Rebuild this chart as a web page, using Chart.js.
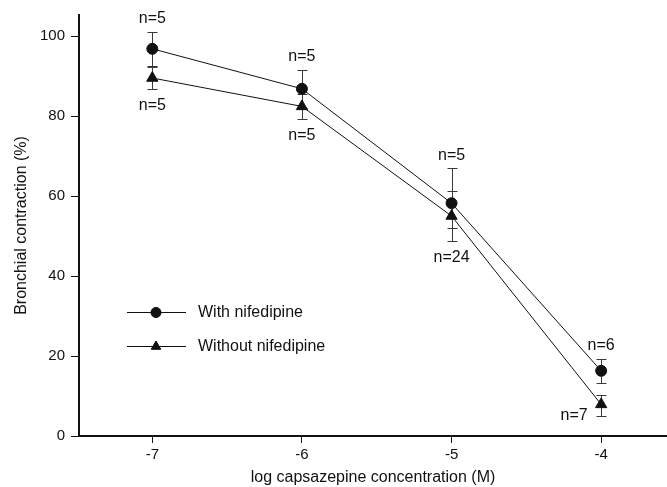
<!DOCTYPE html>
<html>
<head>
<meta charset="utf-8">
<script src="https://cdn.jsdelivr.net/npm/chart.js@4.4.1/dist/chart.umd.min.js"></script>
<style>
  html, body { margin: 0; padding: 0; background: #fff; }
  #wrap { width: 667px; height: 487px; position: relative; }
</style>
</head>
<body>
<div id="wrap"><canvas id="myChart"></canvas></div>
<script>
'use strict';

/** @desc Data */
const LOG_CONC = [-7, -6, -5, -4];
const WITH_NIF = [96.8, 86.8, 58.2, 16.3];
const WITH_NIF_ERR_UP = [4.3, 4.8, 8.7, 3.0];
const WITH_NIF_ERR_DOWN = [4.3, 4.8, 6.3, 3.0];
const WITHOUT_NIF = [89.5, 82.4, 55.0, 7.9];
const WITHOUT_NIF_ERR_UP = [2.8, 3.2, 6.3, 2.4];
const WITHOUT_NIF_ERR_DOWN = [2.8, 3.2, 6.3, 2.8];
const N_WITH = [5, 5, 5, 6];
const N_WITHOUT = [5, 5, 24, 7];
const X_TICKS = [-7, -6, -5, -4];
const Y_TICKS = [0, 20, 40, 60, 80, 100];

const FONT = 'Arial, "Liberation Sans", Helvetica, sans-serif';
const INK = '#111';

/** @desc Datasets built from the arrays above */
const DATA = {
  datasets: [{
    label: 'With nifedipine',
    data: LOG_CONC.map((x, i) => ({x: x, y: WITH_NIF[i]})),
    errUp: WITH_NIF_ERR_UP,
    errDown: WITH_NIF_ERR_DOWN,
    nLabels: N_WITH,
    borderColor: INK,
    backgroundColor: INK,
    borderWidth: 1,
    pointStyle: 'circle',
    pointRadius: 5.5,
    pointHoverRadius: 5.5,
    tension: 0
  }, {
    label: 'Without nifedipine',
    data: LOG_CONC.map((x, i) => ({x: x, y: WITHOUT_NIF[i]})),
    errUp: WITHOUT_NIF_ERR_UP,
    errDown: WITHOUT_NIF_ERR_DOWN,
    nLabels: N_WITHOUT,
    borderColor: INK,
    backgroundColor: INK,
    borderWidth: 1,
    pointStyle: 'triangle',
    pointRadius: 6.5,
    pointHoverRadius: 6.5,
    tension: 0
  }]
};

/** @desc Error bars, n labels and the inset legend */
const EXTRAS = {
  id: 'extras',
  beforeDatasetsDraw(chart) {
    const ctx = chart.ctx;
    const xs = chart.scales.x;
    const ys = chart.scales.y;
    ctx.save();
    ctx.strokeStyle = '#3a3a3a';
    ctx.lineWidth = 1;
    chart.data.datasets.forEach((ds) => {
      ds.data.forEach((p, i) => {
        const px = Math.round(xs.getPixelForValue(p.x)) + 0.5;
        const top = Math.round(ys.getPixelForValue(p.y + ds.errUp[i])) + 0.5;
        const bot = Math.round(ys.getPixelForValue(p.y - ds.errDown[i])) + 0.5;
        ctx.beginPath();
        ctx.moveTo(px, top); ctx.lineTo(px, bot);
        ctx.moveTo(px - 5, top); ctx.lineTo(px + 5, top);
        ctx.moveTo(px - 5, bot); ctx.lineTo(px + 5, bot);
        ctx.stroke();
      });
    });
    ctx.restore();
  },
  afterDatasetsDraw(chart) {
    const ctx = chart.ctx;
    const xs = chart.scales.x;
    const ys = chart.scales.y;
    ctx.save();
    ctx.fillStyle = INK;
    ctx.font = '16px ' + FONT;
    ctx.textAlign = 'center';
    ctx.textBaseline = 'middle';
    const up = chart.data.datasets[0];
    up.data.forEach((p, i) => {
      const px = xs.getPixelForValue(p.x);
      const top = ys.getPixelForValue(p.y + up.errUp[i]);
      ctx.fillText('n=' + up.nLabels[i], px, top - 13);
    });
    const dn = chart.data.datasets[1];
    dn.data.forEach((p, i) => {
      const px = xs.getPixelForValue(p.x);
      const bot = ys.getPixelForValue(p.y - dn.errDown[i]);
      if (i === dn.data.length - 1) {
        ctx.fillText('n=' + dn.nLabels[i], px - 27, ys.getPixelForValue(p.y) + 11);
      } else {
        ctx.fillText('n=' + dn.nLabels[i], px, bot + 16);
      }
    });

    // legend inside the plot
    const rows = [312, 346];
    chart.data.datasets.forEach((ds, k) => {
      const y = rows[k];
      ctx.strokeStyle = INK;
      ctx.lineWidth = 1;
      ctx.beginPath();
      ctx.moveTo(127, y + 0.5);
      ctx.lineTo(186, y + 0.5);
      ctx.stroke();
      Chart.helpers.drawPoint(ctx, {
        pointStyle: ds.pointStyle,
        radius: ds.pointStyle === 'circle' ? 5 : 5.5,
        borderWidth: 1
      }, 156, y + 0.5);
      ctx.fill();
      ctx.textAlign = 'left';
      ctx.fillText(ds.label, 198, y + 1);
    });
    ctx.restore();
  }
};

const SCALES = {
  x: {
    type: 'linear',
    min: -7.49,
    max: -3.56,
    afterBuildTicks: (s) => { s.ticks = X_TICKS.map(v => ({value: v})); },
    afterFit: (s) => { s.height = 51; s.paddingLeft = 0; s.paddingRight = 0; },
    border: {color: INK, width: 2},
    grid: {drawOnChartArea: false, tickLength: 7, color: INK, lineWidth: 1},
    ticks: {color: INK, font: {family: FONT, size: 15}, padding: 3, maxRotation: 0},
    title: {display: true, text: 'log capsazepine concentration (M)', color: INK,
      font: {family: FONT, size: 16}, padding: {top: 0, bottom: 0}}
  },
  y: {
    type: 'linear',
    min: 0,
    max: 105.25,
    afterBuildTicks: (s) => { s.ticks = Y_TICKS.map(v => ({value: v})); },
    afterFit: (s) => { s.width = 79; s.paddingTop = 0; s.paddingBottom = 0; },
    border: {color: INK, width: 2},
    grid: {drawOnChartArea: false, tickLength: 8, color: INK, lineWidth: 1},
    ticks: {color: INK, font: {family: FONT, size: 15}, padding: 6},
    title: {display: true, text: 'Bronchial contraction (%)', color: INK,
      font: {family: FONT, size: 16}, padding: {top: 12, bottom: 0}}
  }
};

const CONFIG = {
  type: 'line',
  data: DATA,
  options: {
    responsive: true,
    maintainAspectRatio: false,
    animation: false,
    layout: {autoPadding: false, padding: {top: 15, right: 0, left: 0, bottom: 0}},
    plugins: {legend: {display: false}, tooltip: {enabled: false}},
    scales: SCALES
  },
  plugins: [EXTRAS]
};

const CTX = document.getElementById('myChart').getContext('2d');
const myChart = new Chart(CTX, CONFIG);
</script>
</body>
</html>
